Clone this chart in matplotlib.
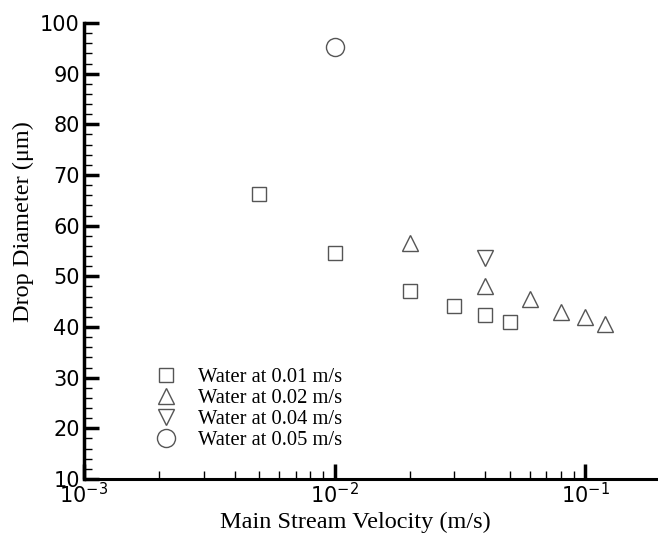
import numpy as np
import matplotlib
matplotlib.use("Agg")
import matplotlib.pyplot as plt
from matplotlib.ticker import LogLocator, MultipleLocator, NullFormatter

# data
v01_x = [0.005, 0.01, 0.02, 0.03, 0.04, 0.05]
v01_y = [66.3, 54.6, 47.2, 44.2, 42.3, 41.0]
v02_x = [0.02, 0.04, 0.06, 0.08, 0.1, 0.12]
v02_y = [56.6, 48.0, 45.5, 42.9, 41.9, 40.5]
v04_x = [0.04]
v04_y = [53.6]
v05_x = [0.01]
v05_y = [95.3]
labels = ["Water at 0.01 m/s", "Water at 0.02 m/s",
          "Water at 0.04 m/s", "Water at 0.05 m/s"]

serif = "Liberation Serif"
sans = "DejaVu Sans"

fig = plt.figure(figsize=(6.58, 5.41), dpi=100)
ax = fig.add_axes([84/658, 1 - 479/541, 1 - 84/658, (479 - 23)/541])

ec = "#555555"
kw = dict(linestyle="none", markerfacecolor="white", markeredgecolor=ec,
          markeredgewidth=1.0, clip_on=False)
ax.plot(v01_x, v01_y, marker="s", markersize=10, label=labels[0], **kw)
ax.plot(v02_x, v02_y, marker="^", markersize=12, label=labels[1], **kw)
ax.plot(v04_x, v04_y, marker="v", markersize=12, label=labels[2], **kw)
ax.plot(v05_x, v05_y, marker="o", markersize=13, label=labels[3], **kw)

ax.set_xscale("log")
ax.set_xlim(1e-3, 10 ** (-1 + 73/251))
ax.set_ylim(10, 100)

ax.spines["right"].set_visible(False)
ax.spines["top"].set_visible(False)
ax.spines["left"].set_linewidth(2.5)
ax.spines["bottom"].set_linewidth(2.2)

ax.yaxis.set_major_locator(MultipleLocator(10))
ax.yaxis.set_minor_locator(MultipleLocator(2))
ax.xaxis.set_major_locator(LogLocator(base=10, numticks=10))
ax.xaxis.set_minor_locator(LogLocator(base=10, subs=np.arange(2, 10), numticks=10))
ax.xaxis.set_minor_formatter(NullFormatter())

ax.tick_params(axis="both", which="major", direction="in", length=11, width=2.5,
               labelsize=15, pad=3)
ax.tick_params(axis="both", which="minor", direction="in", length=6, width=1.0)
ax.tick_params(axis="x", which="major", pad=2)
for lab in ax.get_xticklabels() + ax.get_yticklabels():
    lab.set_fontfamily(sans)

ax.set_xlabel("Main Stream Velocity (m/s)", fontfamily=serif, fontsize=17.5)
ax.xaxis.set_label_coords(0.472, -0.072)
ax.set_ylabel("Drop Diameter (\u03bcm)", fontfamily=serif, fontsize=17.5)
ax.yaxis.set_label_coords(-0.087, 0.565)

leg = ax.legend(loc="lower left", bbox_to_anchor=(0.1, 0.045), frameon=False,
                prop={"family": serif, "size": 14.8}, handletextpad=0.75,
                labelspacing=0.08, borderaxespad=0, handlelength=1.6)

fig.savefig("out.png", dpi=100)
